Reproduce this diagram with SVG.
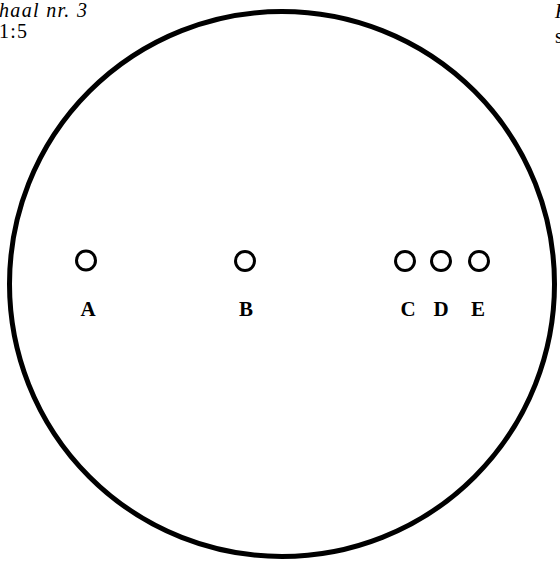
<svg xmlns="http://www.w3.org/2000/svg" width="560" height="561" viewBox="0 0 560 561">
<style>
.hole{fill:none;stroke:#000;stroke-width:3}
.lbl{font-family:"Liberation Serif",serif;font-weight:bold;font-size:21px;text-anchor:middle;fill:#000}
.cap{font-family:"Liberation Serif",serif;font-style:italic;font-size:20px;fill:#000}
</style>
<rect width="560" height="561" fill="#fff"/>
<g id="plate"><circle cx="282" cy="284" r="272.5" fill="none" stroke="#000" stroke-width="5"/></g>
<g id="caption">
<text class="cap" x="-1" y="17" textLength="88" lengthAdjust="spacing">haal nr. 3</text>
<text class="cap" x="-1" y="38" style="font-style:normal" textLength="28" lengthAdjust="spacing">1:5</text>
<text class="cap" x="555" y="18">K</text>
<text class="cap" x="555" y="43" style="font-style:normal">s</text>
</g>
<g id="A"><circle class="hole" cx="86" cy="260.5" r="9.5"/><text class="lbl" x="88" y="316">A</text></g>
<g id="B"><circle class="hole" cx="245" cy="261" r="9.5"/><text class="lbl" x="246" y="316">B</text></g>
<g id="C"><circle class="hole" cx="405" cy="261" r="9.5"/><text class="lbl" x="408" y="316">C</text></g>
<g id="D"><circle class="hole" cx="441" cy="261" r="9.5"/><text class="lbl" x="441" y="316">D</text></g>
<g id="E"><circle class="hole" cx="479" cy="261" r="9.5"/><text class="lbl" x="478" y="316">E</text></g>
<g id="connectors"/>
</svg>
